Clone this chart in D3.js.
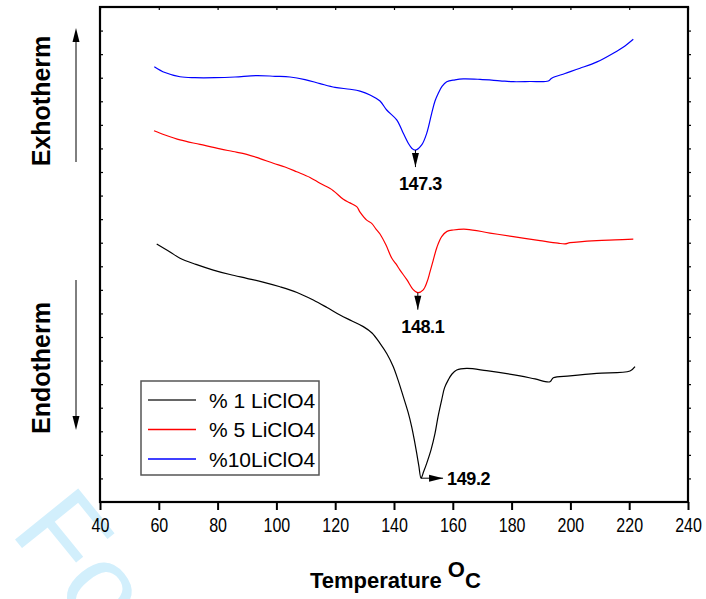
<!DOCTYPE html>
<html>
<head>
<meta charset="utf-8">
<script src="https://cdn.jsdelivr.net/npm/d3@7/dist/d3.min.js"></script>
<style>
  html, body { margin: 0; padding: 0; background: #fff; }
  svg { display: block; }
  text { font-family: "Liberation Sans", Arial, sans-serif; }
</style>
</head>
<body>
<svg id="chart" width="706" height="599"></svg>
<script>
// DSC thermograms of the LiClO4-doped samples (heat flow in arbitrary units)
const seriesNames = ["% 1 LiClO4", "% 5 LiClO4", "%10LiClO4"];
const seriesColors = ["#000000", "#ff0000", "#0000ff"];

const temp1 = [59.29, 63.81, 67.21, 72.65, 78.54, 84.22, 89.90, 95.44, 101.22, 107.01, 112.55, 117.21, 121.63, 125.71,
  129.56, 132.52, 135.24, 137.62, 139.76, 141.36, 143.16, 144.76, 146.02, 146.97, 147.72, 148.45, 149.2,
  150.03, 151.12, 152.59, 153.95, 154.97, 156.22, 157.18, 158.47, 159.73, 161.33, 164.73, 171.50, 182.86,
  187.96, 193.06, 194.18, 199.86, 208.95, 220.27, 221.97];
const heat1 = [10.95, 10.61, 10.34, 10.08, 9.84, 9.65, 9.49, 9.33, 9.13, 8.89, 8.57, 8.25, 7.93, 7.68,
  7.44, 7.17, 6.73, 6.28, 5.74, 5.18, 4.47, 3.82, 3.19, 2.59, 2.07, 1.53, 1.01,
  1.27, 1.64, 2.21, 2.91, 3.61, 4.33, 4.84, 5.18, 5.43, 5.60, 5.67, 5.57, 5.35,
  5.22, 5.10, 5.27, 5.35, 5.46, 5.56, 5.74];

const temp5 = [58.37, 62.11, 67.21, 74.01, 80.82, 85.24, 89.90, 94.42, 98.95, 102.93, 106.90, 111.43, 114.83, 119.25,
  122.76, 125.03, 127.31, 128.44, 130.71, 132.41, 133.88, 135.24, 137.28, 139.22, 140.68, 142.04, 144.42,
  146.46, 148.1, 149.86, 151.22, 152.24, 153.37, 154.63, 156.22, 158.03, 160.17, 164.73, 172.65, 180.58,
  189.66, 195.78, 198.16, 199.86, 208.95, 215.17, 221.39];
const heat5 = [15.75, 15.57, 15.36, 15.17, 14.98, 14.87, 14.75, 14.57, 14.37, 14.21, 14.01, 13.77, 13.52, 13.22,
  12.84, 12.69, 12.53, 12.30, 11.96, 11.82, 11.58, 11.37, 10.90, 10.35, 10.10, 9.84, 9.42,
  9.02, 8.88, 8.99, 9.33, 9.76, 10.27, 10.82, 11.26, 11.48, 11.54, 11.57, 11.41, 11.26,
  11.09, 10.98, 10.95, 11.00, 11.09, 11.12, 11.15];

const temp10 = [58.47, 62.11, 67.21, 72.31, 79.12, 85.92, 93.30, 99.52, 104.63, 109.73, 114.83, 119.93, 125.03, 128.44,
  131.84, 135.24, 137.52, 140.92, 143.16, 144.86, 146.12, 147.3, 149.42, 151.12, 152.82, 153.95, 155.07,
  156.33, 157.93, 160.75, 163.57, 169.25, 176.05, 180.58, 186.26, 192.48, 193.64, 198.16, 203.27, 209.05,
  214.59, 218.57, 221.39];
const heat10 = [18.47, 18.22, 18.04, 18.00, 18.00, 18.03, 18.09, 18.06, 18.03, 17.92, 17.75, 17.59, 17.51, 17.43,
  17.27, 17.01, 16.63, 16.21, 15.64, 15.22, 15.00, 14.93, 15.15, 15.64, 16.49, 17.01, 17.34,
  17.63, 17.83, 17.91, 17.95, 17.93, 17.87, 17.83, 17.84, 17.86, 17.98, 18.18, 18.40, 18.67,
  19.04, 19.35, 19.63];

const peakLabels = ["149.2", "148.1", "147.3"];
const xTicks = [40, 60, 80, 100, 120, 140, 160, 180, 200, 220, 240];

const series = [
  { name: seriesNames[0], color: seriesColors[0], pts: temp1.map((t, i) => ({ t, v: heat1[i] })), label: peakLabels[0], dir: "right" },
  { name: seriesNames[1], color: seriesColors[1], pts: temp5.map((t, i) => ({ t, v: heat5[i] })), label: peakLabels[1], dir: "down" },
  { name: seriesNames[2], color: seriesColors[2], pts: temp10.map((t, i) => ({ t, v: heat10[i] })), label: peakLabels[2], dir: "down" }
];

const svg = d3.select("#chart");
const plotL = 100, plotR = 688, plotT = 7, plotB = 502;

const x = d3.scaleLinear().domain([40, 240]).range([plotL, plotR]);
const y = d3.scaleLinear().domain([0, 21]).range([plotB, plotT]);

// faint diagonal watermark behind everything
svg.append("text")
  .attr("transform", "translate(9,532) rotate(51)")
  .attr("font-size", 118)
  .attr("fill", "#d2effc")
  .text("For Peer Review");

// axes
const axBottom = svg.append("g").attr("transform", `translate(0,${plotB})`)
  .call(d3.axisBottom(x).tickValues(xTicks).tickSize(8).tickPadding(8).tickFormat(d3.format("d")));
axBottom.select(".domain").remove();
axBottom.selectAll(".tick line").attr("stroke", "#000").attr("stroke-width", 2);
axBottom.selectAll(".tick text")
  .attr("font-size", 20).attr("fill", "#000")
  .attr("font-family", "'Liberation Sans', Arial, sans-serif")
  .attr("transform", "scale(0.8,1)");

const axTop = svg.append("g").attr("transform", `translate(0,${plotT})`)
  .call(d3.axisTop(x).tickValues(xTicks).tickSize(-3).tickFormat(""));
axTop.select(".domain").remove();
axTop.selectAll(".tick line").attr("stroke", "#000").attr("stroke-width", 1.2);

const yTicks = d3.range(1, 21);
const axLeft = svg.append("g").attr("transform", `translate(${plotL},0)`)
  .call(d3.axisLeft(y).tickValues(yTicks).tickSize(-3).tickFormat(""));
axLeft.select(".domain").remove();
axLeft.selectAll(".tick line").attr("stroke", "#000").attr("stroke-width", 1.2);

const axRight = svg.append("g").attr("transform", `translate(${plotR},0)`)
  .call(d3.axisRight(y).tickValues(yTicks).tickSize(3).tickFormat(""));
axRight.select(".domain").remove();
axRight.selectAll(".tick line").attr("stroke", "#000").attr("stroke-width", 1.2);

svg.append("rect")
  .attr("x", plotL).attr("y", plotT).attr("width", plotR - plotL).attr("height", plotB - plotT)
  .attr("fill", "none").attr("stroke", "#000").attr("stroke-width", 2.2);

// curves
const curveGen = d3.line().x(d => x(d.t)).y(d => y(d.v)).curve(d3.curveCatmullRom.alpha(0.5));
svg.append("g").selectAll("path").data(series).join("path")
  .attr("d", d => curveGen(d.pts))
  .attr("fill", "none")
  .attr("stroke", d => d.color)
  .attr("stroke-width", 1.2);

// peak markers
function arrowHead(g, tipX, tipY, dir) {
  const len = 14, half = 3.5;
  let p;
  if (dir === "down") p = [[tipX, tipY], [tipX - half, tipY - len], [tipX + half, tipY - len]];
  else if (dir === "up") p = [[tipX, tipY], [tipX - half, tipY + len], [tipX + half, tipY + len]];
  else p = [[tipX, tipY], [tipX - len, tipY - half], [tipX - len, tipY + half]];
  g.append("path").attr("d", "M" + p.join("L") + "Z").attr("fill", "#000");
}

const ann = svg.append("g");
series.forEach(s => {
  const m = s.pts[d3.minIndex(s.pts, d => d.v)];
  const px = x(m.t), py = y(m.v);
  if (s.dir === "down") {
    ann.append("line").attr("x1", px).attr("y1", py).attr("x2", px).attr("y2", py + 17)
      .attr("stroke", "#000").attr("stroke-width", 1);
    arrowHead(ann, px, py + 17, "down");
    ann.append("text").attr("x", px + 5).attr("y", py + 40)
      .attr("text-anchor", "middle").attr("font-size", 18).attr("font-weight", "bold")
      .attr("letter-spacing", -0.4).text(s.label);
  } else {
    ann.append("line").attr("x1", px).attr("y1", py).attr("x2", px + 22).attr("y2", py)
      .attr("stroke", "#000").attr("stroke-width", 1);
    arrowHead(ann, px + 22, py, "right");
    ann.append("text").attr("x", px + 26).attr("y", py + 6.5)
      .attr("font-size", 18).attr("font-weight", "bold")
      .attr("letter-spacing", -0.4).text(s.label);
  }
});

// exo / endo direction indicators
const side = svg.append("g");
side.append("line").attr("x1", 76).attr("y1", 162).attr("x2", 76).attr("y2", 40).attr("stroke", "#000").attr("stroke-width", 1);
arrowHead(side, 76, 28, "up");
side.append("line").attr("x1", 76).attr("y1", 280).attr("x2", 76).attr("y2", 418).attr("stroke", "#000").attr("stroke-width", 1);
arrowHead(side, 76, 430, "down");

side.append("text").attr("transform", "translate(50,101) rotate(-90)")
  .attr("text-anchor", "middle").attr("font-size", 25).attr("font-weight", "bold").text("Exhotherm");
side.append("text").attr("transform", "translate(50,368) rotate(-90)")
  .attr("text-anchor", "middle").attr("font-size", 25).attr("font-weight", "bold").text("Endotherm");

// x axis title
const title = svg.append("text").attr("x", 310).attr("y", 588)
  .attr("font-size", 22).attr("font-weight", "bold");
title.append("tspan").text("Temperature ");
title.append("tspan").attr("dy", -11).text("O");
title.append("tspan").attr("dy", 11).text("C");

// legend
const leg = svg.append("g");
leg.append("rect").attr("x", 141).attr("y", 381).attr("width", 178).attr("height", 94)
  .attr("fill", "#fff").attr("stroke", "#555").attr("stroke-width", 1.5);
const rowY = [400, 429.5, 459];
const legendStroke = ["#333333", seriesColors[1], seriesColors[2]];
series.forEach((s, i) => {
  leg.append("line").attr("x1", 148).attr("x2", 196).attr("y1", rowY[i]).attr("y2", rowY[i])
    .style("stroke", legendStroke[i]).style("stroke-width", "1.6px");
  leg.append("text").attr("x", 209).attr("y", rowY[i] + 7.5)
    .attr("font-size", 21).attr("fill", "#000").text(s.name);
});
</script>
</body>
</html>
